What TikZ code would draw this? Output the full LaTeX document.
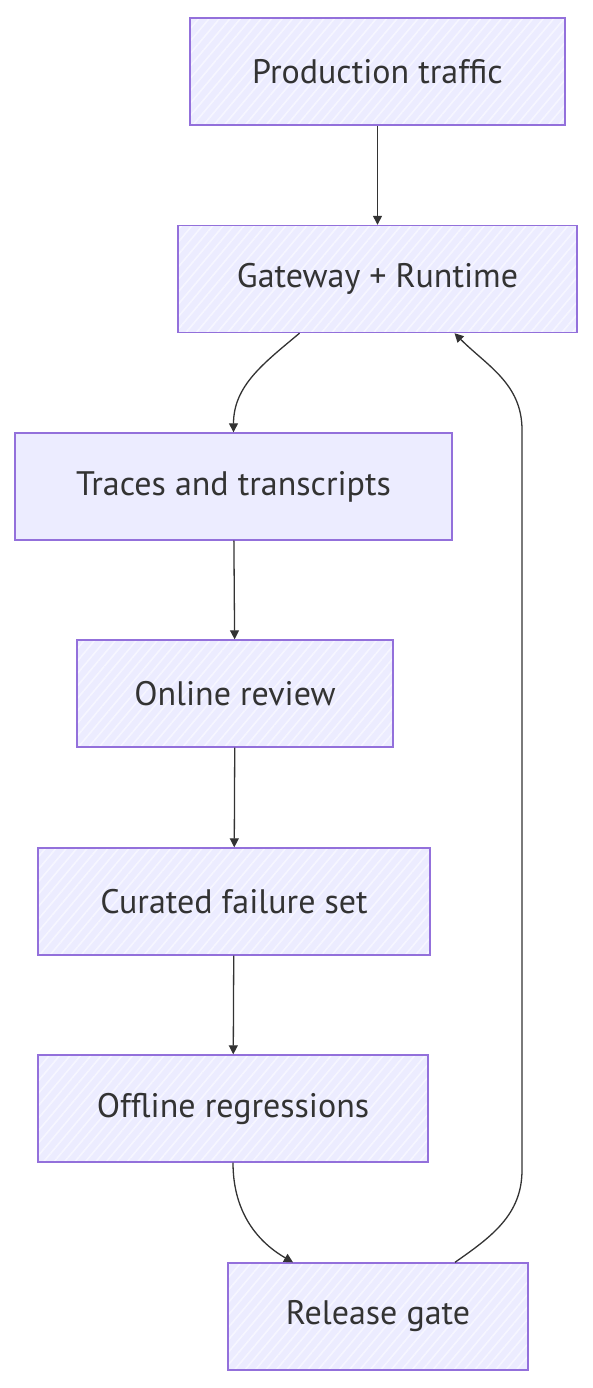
\documentclass[tikz,border=0pt]{standalone}
\usepackage{fontspec}
\setmainfont{PT Sans}
\usetikzlibrary{arrows.meta,patterns.meta}
\definecolor{mmfill}{HTML}{ECECFF}
\definecolor{mmhatch}{HTML}{F6F6FF}
\definecolor{mmline}{HTML}{9370DB}
\definecolor{mmtext}{HTML}{333333}
\tikzset{
  stepbox/.style={rectangle,draw=mmline,line width=1.4pt,fill=mmfill,
    text=mmtext,font=\fontsize{34}{40}\selectfont,minimum height=107pt,inner sep=0pt},
  hatch/.style={postaction={pattern={Lines[angle=50,distance=8pt,line width=1.6pt]},pattern color=mmhatch},
    postaction={draw=mmline,line width=1.4pt}},
  flow/.style={draw=mmtext,line width=1.3pt,-{Triangle[length=9pt,width=9pt]}},
}
\begin{document}
\begin{tikzpicture}[x=1pt,y=-1pt]
\useasboundingbox (0,0) rectangle (593,1388);
% ---- boxes, top to bottom
\node[stepbox,hatch,minimum width=375pt] (prod) at (377.5,71.5) {Production traffic};
\node[stepbox,hatch,minimum width=399pt] (gw) at (377.5,279) {Gateway + Runtime};
\node[stepbox,minimum width=437pt] (traces) at (233.5,486.5) {Traces and transcripts};
\node[stepbox,hatch,minimum width=316pt] (online) at (235,693.5) {Online review};
\node[stepbox,hatch,minimum width=392pt] (curated) at (234,901.5) {Curated failure set};
\node[stepbox,hatch,minimum width=390pt] (offline) at (233,1108.5) {Offline regressions};
\node[stepbox,hatch,minimum width=300pt] (release) at (378,1316.5) {Release gate};
% ---- feedback loop turning points
\coordinate (loopb) at (522,1170);
\coordinate (loopt) at (522,430);
% ---- edges
\draw[flow] (prod) -- (gw);
\draw[flow] ([xshift=-78pt]gw.south) to[out=-140,in=90] (traces.north);
\draw[flow] (traces) -- (online);
\draw[flow] (online) -- (curated);
\draw[flow] (curated) -- (offline);
\draw[flow] (offline.south) to[out=-90,in=150] ([xshift=-85pt]release.north);
\draw[flow] ([xshift=77pt]release.north) to[out=35,in=-90] (loopb) -- (loopt)
  to[out=90,in=-45] ([xshift=77pt]gw.south);
\end{tikzpicture}
\end{document}
